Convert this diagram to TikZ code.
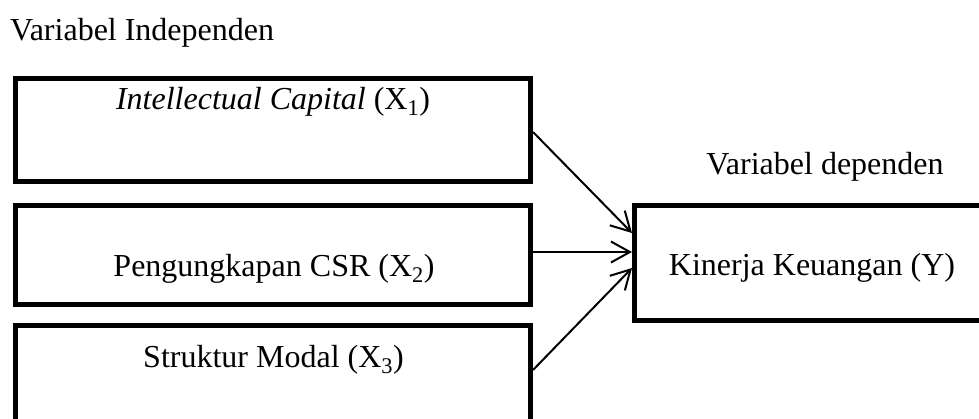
\documentclass[tikz,border=0pt]{standalone}
\usepackage{fontspec}
\setmainfont{Liberation Serif}
\usetikzlibrary{arrows.meta,calc}
\begin{document}
\begin{tikzpicture}[x=1pt,y=-1pt,
  every node/.style={font=\fontsize{32}{38}\selectfont},
  box/.style={draw=black,line width=5pt,rectangle,inner sep=0pt,fill=white},
  lbl/.style={anchor=base,inner sep=0pt},
  conn/.style={line width=2pt,-{Straight Barb[length=19pt,width=21pt,line width=2pt]}}]
\useasboundingbox (0,0) rectangle (979,418);
\clip (0,0) rectangle (979,418);
\node[box,minimum width=515pt,minimum height=103pt] (b1) at (273,130) {};
\node[box,minimum width=515pt,minimum height=99pt] (b2) at (273,255) {};
\node[box,minimum width=515pt,minimum height=110pt] (b3) at (273,380.5) {};
\node[box,minimum width=400pt,minimum height=115pt] (k) at (834.5,263) {};
\node[lbl,anchor=base west] (tv) at (10,40) {Variabel Independen};
\node[lbl] (t1) at (273,109) {\textit{Intellectual Capital} (X\textsubscript{1})};
\node[lbl] (t2) at (274,276) {Pengungkapan CSR (X\textsubscript{2})};
\node[lbl] (t3) at (273.5,367) {Struktur Modal (X\textsubscript{3})};
\node[lbl] (td) at (825,174) {Variabel dependen};
\node[lbl] (tk) at (812,275) {Kinerja Keuangan (Y)};
\draw[conn] ([yshift=-2pt]b1.east) -- ([yshift=30pt]k.west);
\draw[conn] ([yshift=3pt]b2.east) -- ([yshift=11pt]k.west);
\draw[conn] ([yshift=10.5pt]b3.east) -- ([yshift=-5pt]k.west);
\end{tikzpicture}
\end{document}
